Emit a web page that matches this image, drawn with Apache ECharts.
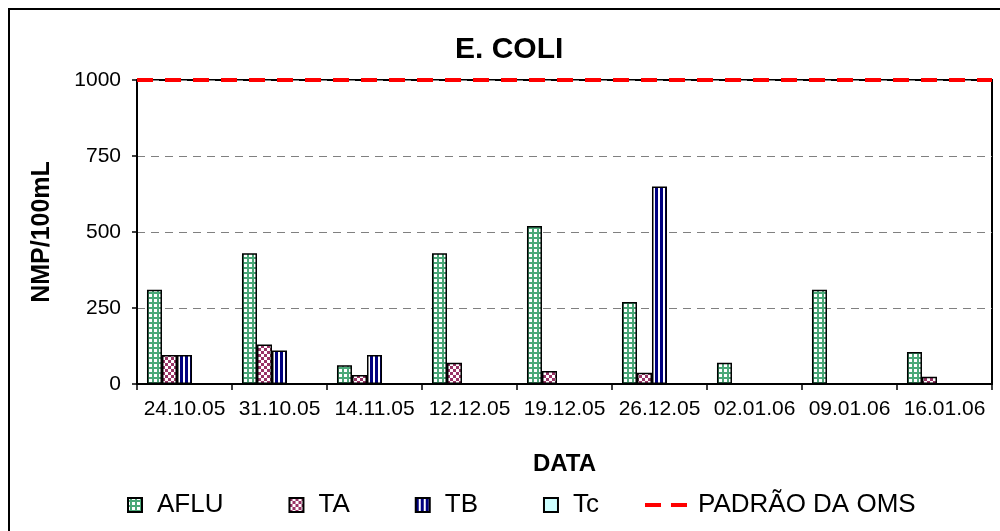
<!DOCTYPE html>
<html>
<head>
<meta charset="utf-8">
<script src="https://cdn.jsdelivr.net/npm/echarts@6/dist/echarts.min.js"></script>
<style>
  html, body { margin: 0; padding: 0; background: #fff; }
  #chart { width: 1000px; height: 531px; }
</style>
</head>
<body>
<div id="chart"></div>
<script>
const categories = ['24.10.05', '31.10.05', '14.11.05', '12.12.05', '19.12.05', '26.12.05', '02.01.06', '09.01.06', '16.01.06']
const aflu = [310, 430, 62, 430, 520, 270, 70, 310, 105]
const ta = [95, 130, 30, 70, 43, 37, null, null, 24]
const tb = [95, 110, 95, null, null, 650, null, null, null]
const tc = [null, null, null, null, null, null, null, null, null]
const padrao = 1000
const yTicks = { min: 0, max: 1000, interval: 250 }

const font = 'Liberation Sans, Arial, sans-serif'

// small canvas tiles used as bar fill patterns
const makeTile = (w, h, draw) => {
  const c = document.createElement('canvas')
  c.width = w
  c.height = h
  const ctx = c.getContext('2d')
  ctx.fillStyle = '#fff'
  ctx.fillRect(0, 0, w, h)
  draw(ctx)
  return c
}

const gridTile = makeTile(5, 5, (ctx) => {
  ctx.fillStyle = '#4aa878'
  ctx.fillRect(2, 0, 2, 5)
  ctx.fillRect(0, 2, 5, 2)
})
const checkTile = makeTile(6, 6, (ctx) => {
  ctx.fillStyle = '#993366'
  ctx.fillRect(0, 0, 3, 3)
  ctx.fillRect(3, 3, 3, 3)
})
const stripeTile = makeTile(5, 1, (ctx) => {
  ctx.fillStyle = '#000080'
  ctx.fillRect(0, 0, 3, 1)
})

const barSeries = (name, data, color) => {
  return {
    name: name,
    type: 'bar',
    data: data,
    barGap: '0%',
    barCategoryGap: '21%',
    itemStyle: {
      color: color,
      borderColor: '#000',
      borderWidth: 1.5
    },
    silent: true
  }
}

const myChart = echarts.init(document.getElementById('chart'))

const option = {
  animation: false,
  backgroundColor: '#fff',
  title: {
    text: 'E. COLI',
    left: 455,
    top: 35,
    padding: 0,
    textStyle: {
      color: '#000',
      fontFamily: font,
      fontSize: 30,
      fontWeight: 'bold'
    }
  },
  graphic: [
    {
      type: 'rect',
      shape: { x: 9, y: 9, width: 1000, height: 600 },
      style: { fill: 'none', stroke: '#000', lineWidth: 2 },
      silent: true,
      z: -1
    }
  ],
  legend: [
    {
      left: 127,
      top: 492,
      padding: 0,
      itemGap: 65,
      itemWidth: 14,
      itemHeight: 14,
      icon: 'rect',
      textStyle: {
        color: '#000',
        fontFamily: font,
        fontSize: 26,
        padding: [0, 0, 0, 10]
      },
      data: ['AFLU', 'TA', 'TB', 'Tc']
    },
    {
      left: 645,
      top: 492,
      padding: 0,
      itemWidth: 42,
      itemHeight: 4,
      textStyle: {
        color: '#000',
        fontFamily: font,
        fontSize: 26,
        padding: [0, 0, 0, 6]
      },
      data: [
        {
          name: 'PADRÃO DA OMS',
          icon: 'path://M0,0H16V4H0Z M26,0H42V4H26Z'
        }
      ]
    }
  ],
  grid: {
    left: 137,
    right: 8,
    top: 80,
    bottom: 147,
    show: true,
    borderColor: '#000',
    borderWidth: 2
  },
  xAxis: {
    type: 'category',
    data: categories,
    name: 'DATA',
    nameLocation: 'middle',
    nameGap: 68,
    nameTextStyle: {
      color: '#000',
      fontFamily: font,
      fontSize: 24,
      fontWeight: 'bold'
    },
    axisLine: {
      show: true,
      lineStyle: { color: '#000', width: 2 }
    },
    axisTick: {
      show: true,
      length: 6,
      lineStyle: { color: '#000', width: 1.5 }
    },
    axisLabel: {
      color: '#000',
      fontFamily: font,
      fontSize: 21,
      margin: 15,
      interval: 0
    }
  },
  yAxis: {
    type: 'value',
    min: yTicks.min,
    max: yTicks.max,
    interval: yTicks.interval,
    name: 'NMP/100mL',
    nameLocation: 'middle',
    nameGap: 82,
    nameTextStyle: {
      color: '#000',
      fontFamily: font,
      fontSize: 25,
      fontWeight: 'bold'
    },
    axisLine: {
      show: true,
      lineStyle: { color: '#000', width: 2 }
    },
    axisTick: {
      show: true,
      length: 5,
      lineStyle: { color: '#000', width: 1.5 }
    },
    axisLabel: {
      color: '#000',
      fontFamily: font,
      fontSize: 21,
      margin: 16,
      formatter: (v) => String(v)
    },
    splitLine: {
      show: true,
      lineStyle: { color: '#808080', width: 1, type: [8, 6] }
    }
  },
  series: [
    barSeries('AFLU', aflu, { image: gridTile, repeat: 'repeat' }),
    barSeries('TA', ta, { image: checkTile, repeat: 'repeat' }),
    barSeries('TB', tb, { image: stripeTile, repeat: 'repeat' }),
    barSeries('Tc', tc, '#CCFFFF'),
    // empty slot, Excel keeps room for the standard line series
    barSeries('slot', tc, 'transparent'),
    {
      name: 'PADRÃO DA OMS',
      type: 'line',
      data: [],
      color: '#FF0000',
      itemStyle: { color: '#FF0000' },
      lineStyle: { color: '#FF0000', width: 4, type: [16, 12] },
      markLine: {
        silent: true,
        symbol: 'none',
        label: { show: false },
        lineStyle: { color: '#FF0000', width: 4, type: [16, 12] },
        data: [{ yAxis: padrao }]
      },
      z: 5
    }
  ]
}

myChart.setOption(option)
</script>
</body>
</html>
